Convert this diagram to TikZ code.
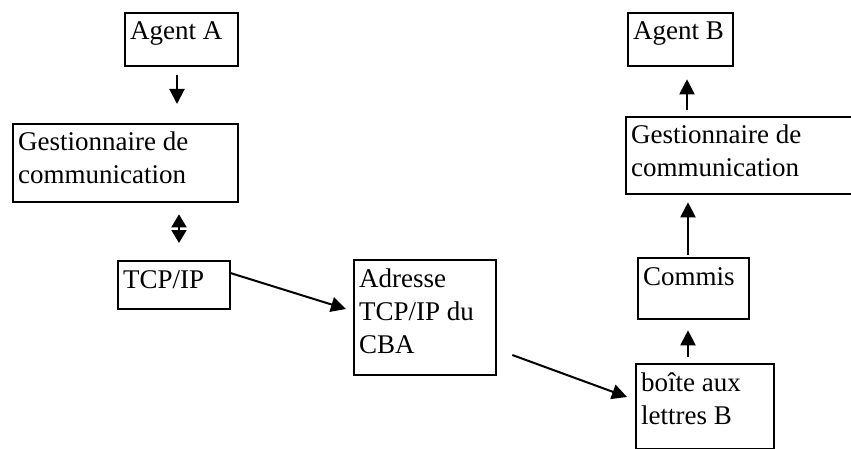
\documentclass[tikz,border=0pt]{standalone}
\usepackage{fontspec}
\setmainfont{Liberation Serif}
\usetikzlibrary{arrows.meta}

\tikzset{
  box/.style={draw=black, line width=2.3pt, inner sep=0pt, anchor=north west},
  txt/.style={inner sep=0pt, anchor=base west, font=\fontsize{27}{33}\selectfont},
  arr/.style={line width=2pt, -{Triangle[length=15pt,width=15pt]}},
  dblarr/.style={line width=2pt, {Triangle[length=13pt,width=15pt]}-{Triangle[length=13pt,width=15pt]}},
}

% a box at its top-left corner, width, height, with left-aligned text from the top
\newcommand{\labelledbox}[6]{%
  \node[box, minimum width=#4pt, minimum height=#5pt] (#1) at (#2pt,-#3pt) {};
  \node[txt] (#1-text) at ([shift={(6pt,-28pt)}]#1.north west)
    {\parbox[t]{300pt}{#6}};
}

\begin{document}
\begin{tikzpicture}[x=1pt,y=1pt]
  \useasboundingbox (0,0) rectangle (851,-449);
  \clip (0,0) rectangle (851,-449);

  % sending side
  \labelledbox{agentA}{124}{12}{113}{53}{Agent A}
  \labelledbox{gestA}{12}{123}{225}{78}{Gestionnaire de\\communication}
  \labelledbox{tcp}{117}{260}{112}{48}{TCP/IP}

  % relay
  \labelledbox{adresse}{353}{259}{142}{115}{Adresse\\TCP/IP du\\CBA}

  % receiving side
  \labelledbox{agentB}{627}{12}{105}{53}{Agent B}
  \labelledbox{gestB}{625}{116}{235}{77}{Gestionnaire de\\communication}
  \labelledbox{commis}{637}{257}{111}{61}{Commis}
  \labelledbox{boite}{635}{363}{138}{85}{boîte aux\\lettres B}

  % connectors
  \draw[arr] ([shift={(53pt,-8pt)}]agentA.south west) -- ([shift={(165pt,19pt)}]gestA.north west);
  \draw[dblarr] ([shift={(167pt,-11pt)}]gestA.south west) -- ([shift={(62pt,17pt)}]tcp.north west);
  \draw[arr] ([shift={(-1pt,-13pt)}]tcp.north east) -- ([shift={(-7pt,-50pt)}]adresse.north west);
  \draw[arr] ([shift={(15pt,-96pt)}]adresse.north east) -- ([shift={(-8pt,-34pt)}]boite.north west);
  \draw[arr] ([shift={(53pt,6pt)}]boite.north west) -- ([shift={(51pt,-10pt)}]commis.south west);
  \draw[arr] ([shift={(51pt,2pt)}]commis.north west) -- ([shift={(63pt,-7pt)}]gestB.south west);
  \draw[arr] ([shift={(62pt,6pt)}]gestB.north west) -- ([shift={(60pt,-12pt)}]agentB.south west);
\end{tikzpicture}
\end{document}
